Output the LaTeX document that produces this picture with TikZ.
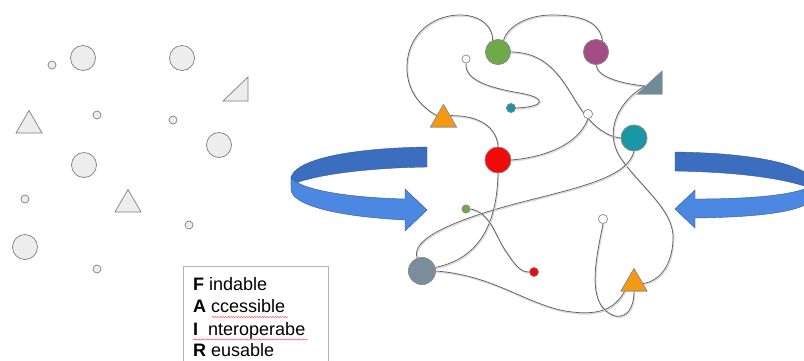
\documentclass[tikz,border=0pt]{standalone}
\usepackage{fontspec}
\setmainfont{Liberation Sans}
\usetikzlibrary{shapes.geometric,decorations.pathmorphing,calc}
\definecolor{lfill}{HTML}{EDEDED}
\definecolor{ldraw}{HTML}{7F7F7F}
\definecolor{cgreen}{HTML}{6FAA4A}
\definecolor{cpurple}{HTML}{A24D86}
\definecolor{cslate}{HTML}{6F8A99}
\definecolor{cslatec}{HTML}{7A8D9B}
\definecolor{cteal}{HTML}{1A97A5}
\definecolor{corange}{HTML}{F39A12}
\definecolor{cred}{HTML}{F00A0A}
\definecolor{bdark}{HTML}{3C6EC0}
\definecolor{blight}{HTML}{4C88E2}
\definecolor{bedge}{HTML}{2F5597}
\begin{document}
\begin{tikzpicture}[x=1pt,y=-1pt,
  gc/.style={circle, draw=ldraw, fill=lfill, line width=0.7pt, inner sep=0pt, minimum size=#1},
  gt/.style={regular polygon, regular polygon sides=3, draw=ldraw, fill=lfill, line width=0.7pt, inner sep=0pt, minimum size=30pt},
  nc/.style={circle, draw=black!45, line width=0.6pt, inner sep=0pt, minimum size=#1},
  nt/.style={regular polygon, regular polygon sides=3, draw=black!45, line width=0.6pt, inner sep=0pt, minimum size=30pt},
  conn/.style={draw=black!62, line width=0.75pt,
    preaction={draw=black!14, line width=1.4pt, transform canvas={shift={(0.7pt,-1.1pt)}}}},
  wavy/.style={draw=red!75, line width=0.4pt, decorate, decoration={snake, amplitude=0.6pt, segment length=2.6pt}},
  lbl/.style={anchor=base west, inner sep=0pt, font=\fontsize{18}{22}\selectfont},
  ribback/.style={fill=bdark, draw=bedge, line width=0.4pt},
  ribfront/.style={fill=blight, draw=bedge, line width=0.4pt}
]
\useasboundingbox (0,0) rectangle (804,360);
\clip (0,0) rectangle (804,360);
\fill[white] (0,0) rectangle (804,360);

% ---------- left: scattered shapes ----------
\node[gc=8pt]  (a1) at (52,65) {};
\node[gc=25pt] (a2) at (83,58) {};
\node[gc=25pt] (a3) at (182,58) {};
\path[draw=ldraw, fill=lfill, line width=0.7pt] (223,101) -- (248,101) -- (248,77) -- cycle;
\coordinate (a4) at (240,93);
\node[gt] (a5) at (29,125.5) {};
\node[gc=8pt]  (a6) at (97,115) {};
\node[gc=8pt]  (a7) at (173,120) {};
\node[gc=25pt] (a8) at (219,145) {};
\node[gc=25pt] (a9) at (84,165) {};
\node[gc=8pt]  (a10) at (25,199) {};
\node[gt] (a11) at (128,204.5) {};
\node[gc=8pt]  (a12) at (189,225) {};
\node[gc=25pt] (a13) at (25,247) {};
\node[gc=8pt]  (a14) at (97,269) {};

% ---------- FAIR box ----------
\node[draw=black!30, line width=0.6pt, anchor=north west, minimum width=145pt, minimum height=110pt, inner sep=0pt] (box) at (183,266) {};
\node[lbl] (l1) at (193,290) {\bfseries F\mdseries\ indable};
\node[lbl] (l2) at (193,312.5) {\bfseries A\mdseries\ ccessible};
\node[lbl] (l3) at (193,335) {\bfseries I\mdseries\ \ nteroperabe};
\node[lbl] (l4) at (193,356) {\bfseries R\mdseries\ eusable};
\draw[wavy] (212,317) -- (288,317);
\draw[wavy] (193,339.5) -- (308,339.5);

% ---------- blue ribbon arrows ----------
% left
\path[ribback] (427,147) .. controls (360,148) and (298,157) .. (291,177)
   -- (291,185) .. controls (310,176) and (360,168) .. (427,167) -- cycle;
\path[ribfront] (291,177) .. controls (295,186) and (330,197) .. (405,199)
   -- (405,189) -- (427,210) -- (405,231) -- (405,220)
   .. controls (330,216) and (293,204) .. (291,190) -- cycle;
% right
\path[ribback] (675,152) .. controls (745,153) and (805,162) .. (815,182)
   -- (815,190) .. controls (790,179) and (740,172) .. (675,171) -- cycle;
\path[ribfront] (815,182) .. controls (810,192) and (770,199) .. (695,199)
   -- (695,190) -- (675,209) -- (695,228) -- (695,218)
   .. controls (770,217) and (812,210) .. (815,195) -- cycle;

% ---------- network nodes ----------
\node[nc=25pt, fill=cgreen]  (g)  at (498,52) {};
\node[nc=25pt, fill=cpurple] (p)  at (596,52) {};
\path[fill=cslate, draw=black!40, line width=0.5pt] (637,94) -- (662,94) -- (662,71) -- cycle;
\coordinate (st) at (645,86);
\node[nc=8pt, fill=white]    (w1) at (466,59) {};
\node[nc=9pt, fill=cteal]    (ts) at (511,108) {};
\node[nt, fill=corange]      (ot) at (443.5,119.5) {};
\node[nc=9pt, fill=white]    (w2) at (588,114) {};
\node[nc=26pt, fill=cteal]   (t)  at (634,138) {};
\node[nc=26pt, fill=cred]    (r)  at (498,160) {};
\node[nc=8pt, fill=cgreen]   (sg) at (466,209) {};
\node[nc=9pt, fill=white]    (w3) at (603,219) {};
\node[nc=27pt, fill=cslatec] (s)  at (422,271) {};
\node[nc=9pt, fill=cred]     (sr) at (534,272) {};
\node[nt, fill=corange]      (bt) at (634,283.5) {};

% ---------- connectors ----------
\path[conn] (ot.150) .. controls (418,105) and (406,88) .. (407,65)
   .. controls (408,35) and (432,15) .. (460,15)
   .. controls (480,15) and (493,26) .. (g.115);
\path[conn] (g.65) .. controls (507,28) and (525,15) .. (552,15)
   .. controls (582,15) and (600,22) .. (p.60);
\path[conn] (g.east) .. controls (545,52) and (560,75) .. (575,100)
   .. controls (590,125) and (605,136) .. (t.west);
\path[conn] (p.south) .. controls (597,78) and (625,84) .. (st);
\path[conn] (st) .. controls (620,100) and (603,130) .. (620,157)
   .. controls (640,187) and (675,210) .. (673,240)
   .. controls (672,265) and (660,281) .. (bt.east);
\path[conn] (w1.south) .. controls (464,80) and (490,88) .. (520,93)
   .. controls (548,98) and (545,107) .. (ts.east);
\path[conn] (ot.30) .. controls (480,115) and (497,128) .. (r.north);
\path[conn] (r.east) .. controls (545,157) and (578,145) .. (w2.south);
\path[conn] (t.south) .. controls (628,175) and (590,185) .. (530,200)
   .. controls (450,220) and (410,240) .. (s.110);
\path[conn] (r.south) .. controls (497,220) and (482,258) .. (s.15);
\path[conn] (sg.east) .. controls (490,212) and (495,235) .. (505,250)
   .. controls (515,265) and (520,272) .. (sr.west);
\path[conn] (s.east) .. controls (490,275) and (520,300) .. (560,310)
   .. controls (600,318) and (615,308) .. (bt.220);
\path[conn] (w3.south) .. controls (598,250) and (588,290) .. (603,308)
   .. controls (618,324) and (634,316) .. (bt.south);

% redraw nodes on top of connectors
\node[nc=25pt, fill=cgreen]  at (g) {};
\node[nc=25pt, fill=cpurple] at (p) {};
\node[nc=8pt, fill=white]    at (w1) {};
\node[nc=9pt, fill=cteal]    at (ts) {};
\node[nt, fill=corange]      at (ot) {};
\node[nc=9pt, fill=white]    at (w2) {};
\node[nc=26pt, fill=cteal]   at (t) {};
\node[nc=26pt, fill=cred]    at (r) {};
\node[nc=8pt, fill=cgreen]   at (sg) {};
\node[nc=9pt, fill=white]    at (w3) {};
\node[nc=27pt, fill=cslatec] at (s) {};
\node[nc=9pt, fill=cred]     at (sr) {};
\node[nt, fill=corange]      at (bt) {};
\path[fill=cslate, draw=black!40, line width=0.5pt] (637,94) -- (662,94) -- (662,71) -- cycle;
\end{tikzpicture}
\end{document}
